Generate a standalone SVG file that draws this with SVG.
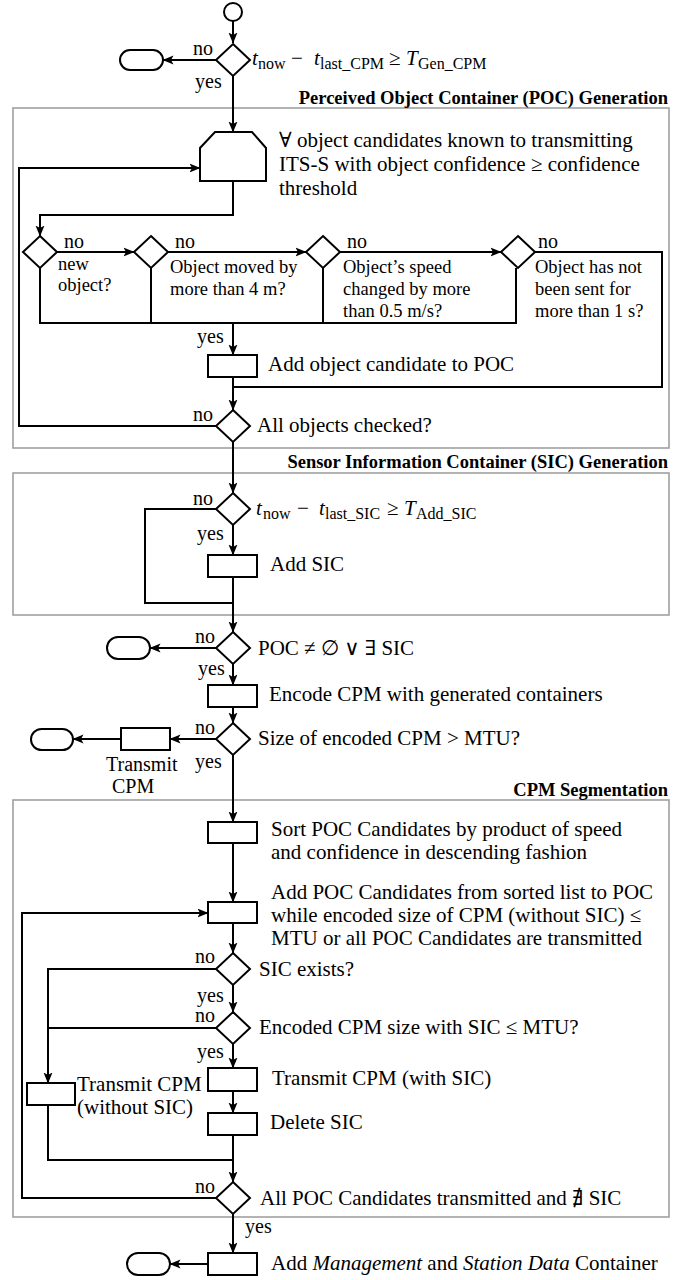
<svg xmlns="http://www.w3.org/2000/svg" width="692" height="1280" viewBox="0 0 692 1280">
<defs>
<marker id="ah" markerWidth="12" markerHeight="10" refX="10.5" refY="5" orient="auto" markerUnits="userSpaceOnUse">
<path d="M0,0.5 L11,5 L0,9.5 L2.5,5 Z" fill="#000"/>
</marker>
<style>
.ln{fill:none;stroke:#000;stroke-width:2}
.ar{fill:none;stroke:#000;stroke-width:2;marker-end:url(#ah)}
.nd{fill:#fff;stroke:#000;stroke-width:2}
.grp{fill:none;stroke:#a0a0a0;stroke-width:1.6}
text{font-family:"Liberation Serif","DejaVu Serif",serif;font-size:21px;fill:#000}
.lb{font-size:20px}
.sm{font-size:18.5px}
.md{font-size:20px}
.hd{font-size:18.5px;font-weight:bold;text-anchor:end}
.it{font-style:italic}
.sub{font-size:16px}
</style>
</defs>
<rect width="692" height="1280" fill="#fff"/>

<g id="groups">
<rect class="grp" x="13" y="108" width="656" height="340"/>
<text class="hd" x="668" y="104">Perceived Object Container (POC) Generation</text>
<rect class="grp" x="13" y="473" width="656" height="142"/>
<text class="hd" x="668" y="468">Sensor Information Container (SIC) Generation</text>
<rect class="grp" x="13" y="800" width="656" height="417"/>
<text class="hd" x="668" y="796">CPM Segmentation</text>
</g>

<g id="connectors">
<path class="ar" d="M233,21 V43"/>
<path class="ar" d="M216,60 H163"/>
<path class="ar" d="M233,76 V132"/>
<path class="ar" d="M216,426 H19 V168 H200"/>
<path class="ar" d="M233,181 V215 H40 V236"/>
<path class="ar" d="M57,252 H134"/>
<path class="ar" d="M168,252 H306"/>
<path class="ar" d="M340,252 H501"/>
<path class="ln" d="M535,252 H662 V387 H233"/>
<path class="ln" d="M40,268 V323 H516 V268"/>
<path class="ln" d="M151,268 V323"/>
<path class="ln" d="M323,268 V323"/>
<path class="ar" d="M233,323 V355"/>
<path class="ar" d="M233,377 V410"/>
<path class="ar" d="M233,442 V493"/>
<path class="ln" d="M216,509 H145 V603 H233"/>
<path class="ar" d="M233,525 V555"/>
<path class="ar" d="M233,577 V632"/>
<path class="ar" d="M216,648 H150"/>
<path class="ar" d="M233,664 V685"/>
<path class="ar" d="M233,707 V723"/>
<path class="ar" d="M216,739 H170"/>
<path class="ar" d="M121,739 H73"/>
<path class="ar" d="M233,755 V822"/>
<path class="ar" d="M233,843 V902"/>
<path class="ar" d="M216,1198 H22 V913 H208"/>
<path class="ar" d="M233,923 V953"/>
<path class="ar" d="M216,969 H48 V1083"/>
<path class="ln" d="M216,1028 H48"/>
<path class="ar" d="M233,985 V1012"/>
<path class="ar" d="M233,1044 V1068"/>
<path class="ar" d="M233,1091 V1113"/>
<path class="ar" d="M233,1135 V1182"/>
<path class="ln" d="M48,1105 V1160 H233"/>
<path class="ar" d="M233,1214 V1253"/>
<path class="ar" d="M208,1264 H170"/>
</g>

<g id="labels">
<text class="lb" x="193" y="55">no</text>
<text class="lb" x="195" y="88">yes</text>
<text class="lb" x="64" y="248">no</text>
<text class="lb" x="175" y="248">no</text>
<text class="lb" x="347" y="248">no</text>
<text class="lb" x="538" y="248">no</text>
<text class="lb" x="197" y="343">yes</text>
<text class="lb" x="193" y="421">no</text>
<text class="lb" x="193" y="505">no</text>
<text class="lb" x="197" y="540">yes</text>
<text class="lb" x="195" y="643">no</text>
<text class="lb" x="198" y="675">yes</text>
<text class="lb" x="195" y="734">no</text>
<text class="lb" x="195" y="768">yes</text>
<text class="lb" x="195" y="963">no</text>
<text class="lb" x="197" y="1002">yes</text>
<text class="lb" x="195" y="1022">no</text>
<text class="lb" x="197" y="1058">yes</text>
<text class="lb" x="195" y="1193">no</text>
<text class="lb" x="245" y="1233">yes</text>
</g>

<g id="start"><circle class="nd" cx="233" cy="12" r="9"/></g>

<g id="check-gen-cpm">
<polygon class="nd" points="233,44 250,60 233,76 216,60"/>
<text y="65"><tspan class="it" x="252">t</tspan><tspan class="sub" x="258" dy="4">now</tspan><tspan x="291" dy="-4">−</tspan><tspan class="it" x="314">t</tspan><tspan class="sub" x="320" dy="4">last_CPM</tspan><tspan x="389" dy="-4">≥</tspan><tspan class="it" x="406">T</tspan><tspan class="sub" x="418" dy="4">Gen_CPM</tspan></text>
</g>
<g id="end1"><rect class="nd" x="120" y="50" width="43" height="20" rx="10"/></g>

<g id="loop-objects">
<polygon class="nd" points="215,132 252,132 266,148 266,181 200,181 200,148"/>
<text x="279" y="147">∀ object candidates known to transmitting</text>
<text x="279" y="171">ITS-S with object confidence ≥ confidence</text>
<text x="279" y="195">threshold</text>
</g>

<g id="d-new">
<polygon class="nd" points="40,236 57,252 40,268 23,252"/>
<text class="sm" x="58" y="270">new</text>
<text class="sm" x="58" y="291">object?</text>
</g>
<g id="d-moved">
<polygon class="nd" points="151,236 168,252 151,268 134,252"/>
<text class="sm" x="170" y="273">Object moved by</text>
<text class="sm" x="170" y="295">more than 4 m?</text>
</g>
<g id="d-speed">
<polygon class="nd" points="323,236 340,252 323,268 306,252"/>
<text class="sm" x="343" y="273">Object’s speed</text>
<text class="sm" x="343" y="295">changed by more</text>
<text class="sm" x="343" y="317">than 0.5 m/s?</text>
</g>
<g id="d-sent">
<polygon class="nd" points="518,236 535,252 518,268 501,252"/>
<text class="sm" x="535" y="273">Object has not</text>
<text class="sm" x="535" y="295">been sent for</text>
<text class="sm" x="535" y="317">more than 1 s?</text>
</g>

<g id="add-object">
<rect class="nd" x="208" y="355" width="49" height="22"/>
<text x="268" y="371">Add object candidate to POC</text>
</g>
<g id="d-all-checked">
<polygon class="nd" points="233,410 250,426 233,442 216,426"/>
<text x="257" y="432">All objects checked?</text>
</g>

<g id="d-sic-time">
<polygon class="nd" points="233,493 250,509 233,525 216,509"/>
<text y="515"><tspan class="it" x="256">t</tspan><tspan class="sub" x="263" dy="4">now</tspan><tspan x="297" dy="-4">−</tspan><tspan class="it" x="319">t</tspan><tspan class="sub" x="325" dy="4">last_SIC</tspan><tspan x="387" dy="-4">≥</tspan><tspan class="it" x="404">T</tspan><tspan class="sub" x="416" dy="4">Add_SIC</tspan></text>
</g>
<g id="add-sic">
<rect class="nd" x="208" y="555" width="49" height="22"/>
<text x="270" y="571">Add SIC</text>
</g>

<g id="d-poc-sic">
<polygon class="nd" points="233,632 250,648 233,664 216,648"/>
<text x="258" y="655">POC ≠ ∅ ∨ ∃ SIC</text>
</g>
<g id="end2"><rect class="nd" x="107" y="637" width="43" height="22" rx="11"/></g>

<g id="encode">
<rect class="nd" x="208" y="685" width="49" height="22"/>
<text x="269" y="701">Encode CPM with generated containers</text>
</g>

<g id="d-size">
<polygon class="nd" points="233,723 250,739 233,755 216,739"/>
<text x="258" y="745">Size of encoded CPM &gt; MTU?</text>
</g>
<g id="transmit">
<rect class="nd" x="121" y="728" width="49" height="22"/>
<text class="md"><tspan x="106" y="771">Transmit</tspan><tspan x="112" y="793">CPM</tspan></text>
</g>
<g id="end3"><rect class="nd" x="31" y="729" width="42" height="21" rx="10.5"/></g>

<g id="sort">
<rect class="nd" x="208" y="822" width="49" height="21"/>
<text x="271" y="836">Sort POC Candidates by product of speed</text>
<text x="271" y="859">and confidence in descending fashion</text>
</g>

<g id="add-poc">
<rect class="nd" x="208" y="902" width="49" height="21"/>
<text x="271" y="899">Add POC Candidates from sorted list to POC</text>
<text x="271" y="922">while encoded size of CPM (without SIC) ≤</text>
<text x="271" y="945">MTU or all POC Candidates are transmitted</text>
</g>

<g id="d-sic-exists">
<polygon class="nd" points="233,953 250,969 233,985 216,969"/>
<text x="259" y="976">SIC exists?</text>
</g>

<g id="d-size-sic">
<polygon class="nd" points="233,1012 250,1028 233,1044 216,1028"/>
<text x="259" y="1034">Encoded CPM size with SIC ≤ MTU?</text>
</g>

<g id="transmit-with">
<rect class="nd" x="208" y="1068" width="49" height="23"/>
<text x="272" y="1085">Transmit CPM (with SIC)</text>
</g>

<g id="transmit-without">
<rect class="nd" x="27" y="1083" width="48" height="22"/>
<text x="77" y="1091">Transmit CPM</text>
<text x="77" y="1114">(without SIC)</text>
</g>

<g id="delete-sic">
<rect class="nd" x="208" y="1113" width="49" height="22"/>
<text x="270" y="1129">Delete SIC</text>
</g>

<g id="d-all-poc">
<polygon class="nd" points="233,1182 250,1198 233,1214 216,1198"/>
<text x="260" y="1205">All POC Candidates transmitted and ∄ SIC</text>
</g>

<g id="add-mgmt">
<rect class="nd" x="208" y="1253" width="49" height="22"/>
<text x="271" y="1270">Add <tspan class="it">Management</tspan> and <tspan class="it">Station Data</tspan> Container</text>
</g>
<g id="end4"><rect class="nd" x="127" y="1253" width="43" height="22" rx="11"/></g>
</svg>
